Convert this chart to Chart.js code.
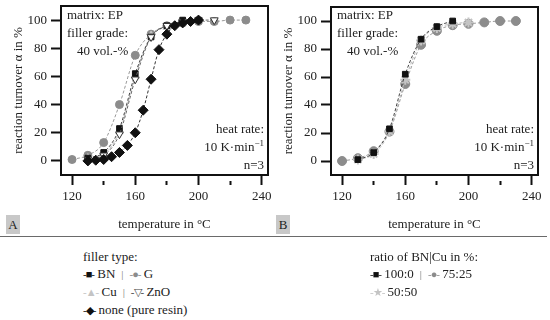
<!DOCTYPE html>
<html>
<head>
<meta charset="utf-8">
<script src="https://cdn.jsdelivr.net/npm/chart.js@4/dist/chart.umd.min.js"></script>
<style>
  html, body { margin: 0; padding: 0; background: #fff; }
  body { width: 550px; height: 320px; position: relative; overflow: hidden;
         font-family: "Liberation Serif", serif; color: #222; font-size: 13px; }
  canvas { position: absolute; top: 0; }
  .txt { position: absolute; white-space: nowrap; line-height: 16px; }
  .r { text-align: right; }
  .tag { position: absolute; background: #c8c8c8; width: 14px; height: 19px; line-height: 19px;
         text-align: center; top: 215px; }
  .rule { position: absolute; left: 0; top: 236px; width: 547px; height: 0; border-top: 1.5px solid #6a6a6a; }
  .sep { color: #777; margin: 0 6px; font-size: 11px; }
  .sym { font-size: 11px; letter-spacing: -1px; }
  sup { font-size: 9px; line-height: 0; }
</style>
</head>
<body>
<canvas id="chartA" width="275" height="236" style="left:0"></canvas>
<canvas id="chartB" width="280" height="236" style="left:270px"></canvas>

<!-- anotaciones dentro de los paneles -->
<div class="txt" style="left:67px; top:7px">matrix: EP</div>
<div class="txt" style="left:67px; top:25px">filler grade:</div>
<div class="txt" style="left:77px; top:43px">40 vol.-%</div>
<div class="txt r" style="right:286px; top:121px">heat rate:</div>
<div class="txt r" style="right:286px; top:139px">10 K·min<sup>−1</sup></div>
<div class="txt r" style="right:286px; top:157px">n=3</div>

<div class="txt" style="left:337px; top:7px">matrix: EP</div>
<div class="txt" style="left:337px; top:25px">filler grade:</div>
<div class="txt" style="left:347px; top:43px">40 vol.-%</div>
<div class="txt r" style="right:16px; top:121px">heat rate:</div>
<div class="txt r" style="right:16px; top:139px">10 K·min<sup>−1</sup></div>
<div class="txt r" style="right:16px; top:157px">n=3</div>

<div class="tag" style="left:6px">A</div>
<div class="tag" style="left:276px">B</div>
<div class="rule"></div>

<!-- leyendas -->
<div class="txt" style="left:83px; top:249px">filler type:</div>
<div class="txt" style="left:83px; top:266px"><span class="sym" style="color:#111">-■-</span> BN<span class="sep">|</span><span class="sym" style="color:#8c8c8c">-●-</span> G</div>
<div class="txt" style="left:83px; top:284px"><span class="sym" style="color:#c4c4c4">-▲-</span> Cu<span class="sep">|</span><span class="sym" style="color:#444">-▽-</span> ZnO</div>
<div class="txt" style="left:83px; top:302px"><span class="sym" style="color:#111">-◆-</span> none (pure resin)</div>

<div class="txt" style="left:370px; top:249px">ratio of BN|Cu in %:</div>
<div class="txt" style="left:370px; top:266px"><span class="sym" style="color:#111">-■-</span> 100:0<span class="sep">|</span><span class="sym" style="color:#8c8c8c">-●-</span> 75:25</div>
<div class="txt" style="left:370px; top:284px"><span class="sym" style="color:#c4c4c4">-★-</span> 50:50</div>

<script>
// --- DATOS PANEL A (tipo de carga) ---
const tempBN = [130, 140, 150, 160, 170, 180, 190, 200];
const valBN = [2, 6, 23, 62, 88, 96, 100, 100];
const tempG = [120, 130, 140, 150, 160, 170, 180, 190, 200, 210, 220, 230];
const valG = [1, 4, 13, 40, 75, 90, 96, 98, 99, 99, 100, 100];
const tempCu = [130, 140, 150, 160, 170, 180, 190, 200];
const valCu = [2, 5, 21, 60, 89, 95, 99, 100];
const tempZnO = [130, 140, 150, 160, 170, 180, 190, 200, 210];
const valZnO = [1, 4, 19, 58, 88, 96, 99, 100, 100];
const tempNone = [130, 135, 140, 145, 150, 155, 160, 165, 170, 175, 180, 185, 190, 195, 200];
const valNone = [0, 0.5, 1, 3, 6, 11, 20, 36, 58, 79, 90, 96, 98, 99, 100];

// --- DATOS PANEL B (relación BN|Cu) ---
const temp100 = [130, 140, 150, 160, 170, 180, 190];
const val100 = [1, 6, 23, 62, 87, 96, 100];
const temp75 = [120, 130, 140, 150, 160, 170, 180, 190, 200, 210, 220, 230];
const val75 = [0, 2, 7, 21, 55, 83, 93, 97, 98, 99, 100, 100];
const temp50 = [130, 140, 150, 160, 170, 180, 190, 200];
const val50 = [1, 5, 21, 58, 86, 95, 98, 99];

// --- TICKS ---
const xTicks = [120, 140, 160, 180, 200, 220, 240];
const xLabels = [120, 160, 200, 240];
const yTicks = [0, 10, 20, 30, 40, 50, 60, 70, 80, 90, 100];
const yLabels = [0, 20, 40, 60, 80, 100];

const FONT = 'Liberation Serif';

function toPoints(xs, ys) {
    return xs.map((x, i) => ({ x: x, y: ys[i] }));
}

function series(xs, ys, style) {
    return Object.assign({
        data: toPoints(xs, ys),
        borderWidth: 1,
        borderDash: [3, 2],
        cubicInterpolationMode: 'monotone',
        pointBorderWidth: 1
    }, style);
}

// Marco negro alrededor del área del gráfico
const framePlugin = {
    id: 'frame',
    afterDraw(chart) {
        const a = chart.chartArea;
        const c = chart.ctx;
        c.save();
        c.strokeStyle = '#111';
        c.lineWidth = 2;
        c.strokeRect(a.left, a.top, a.right - a.left, a.bottom - a.top);
        c.restore();
    }
};

// Sin relleno extra por etiquetas que sobresalen: el área queda fija
function noOverhang(s) {
    s.paddingLeft = 0;
    s.paddingRight = 0;
    s.paddingTop = 0;
    s.paddingBottom = 0;
}

function makeChart(canvasId, rightPad, datasets) {
    return new Chart(document.getElementById(canvasId), {
        type: 'line',
        data: { datasets: datasets },
        plugins: [framePlugin],
        options: {
            responsive: false,
            animation: false,
            layout: { padding: { top: 4, right: rightPad, left: 0, bottom: 3 } },
            plugins: { legend: { display: false }, tooltip: { enabled: false } },
            scales: {
                x: {
                    type: 'linear', min: 113, max: 244,
                    afterBuildTicks: s => { s.ticks = xTicks.map(v => ({ value: v })); },
                    afterFit: s => { s.height = 58; noOverhang(s); },
                    border: { display: true, color: '#111', width: 2 },
                    grid: {
                        drawOnChartArea: false, tickLength: 10, tickColor: '#111', tickWidth: 2,
                        tickBorderDash: ctx => xLabels.includes(ctx.tick.value) ? [] : [0, 5, 5, 100]
                    },
                    ticks: {
                        padding: 4, color: '#222', font: { family: FONT, size: 13 },
                        callback: v => xLabels.includes(v) ? v : ''
                    },
                    title: {
                        display: true, text: 'temperature in °C', color: '#222',
                        font: { family: FONT, size: 13 }, padding: { top: 0, bottom: 1 }
                    }
                },
                y: {
                    type: 'linear', min: -10, max: 110,
                    afterBuildTicks: s => { s.ticks = yTicks.map(v => ({ value: v })); },
                    afterFit: s => { s.width = 61; noOverhang(s); },
                    border: { display: true, color: '#111', width: 2 },
                    grid: {
                        drawOnChartArea: false, tickLength: 10, tickColor: '#111', tickWidth: 2,
                        tickBorderDash: ctx => yLabels.includes(ctx.tick.value) ? [] : [0, 5, 5, 100]
                    },
                    ticks: {
                        padding: 4, color: '#222', font: { family: FONT, size: 13 },
                        callback: v => yLabels.includes(v) ? v : ''
                    },
                    title: {
                        display: true, text: 'reaction turnover α in %', color: '#222',
                        font: { family: FONT, size: 13 }, padding: { top: 11, bottom: 0 }
                    }
                }
            }
        }
    });
}

makeChart('chartA', 7, [
    series(tempNone, valNone, { borderColor: '#333', pointStyle: 'rectRot', pointRadius: 5,
        pointBackgroundColor: '#111', pointBorderColor: '#111' }),
    series(tempZnO, valZnO, { borderColor: '#666', pointStyle: 'triangle', pointRotation: 180, pointRadius: 4.5,
        pointBackgroundColor: '#fff', pointBorderColor: '#333' }),
    series(tempBN, valBN, { borderColor: '#444', pointStyle: 'rect', pointRadius: 4,
        pointBackgroundColor: '#111', pointBorderColor: '#111' }),
    series(tempCu, valCu, { borderColor: '#bbb', pointStyle: 'triangle', pointRadius: 4.5,
        pointBackgroundColor: '#c4c4c4', pointBorderColor: '#c4c4c4' }),
    series(tempG, valG, { borderColor: '#999', pointStyle: 'circle', pointRadius: 4,
        pointBackgroundColor: '#8c8c8c', pointBorderColor: '#8c8c8c' })
]);

makeChart('chartB', 12, [
    series(temp100, val100, { borderColor: '#444', pointStyle: 'rect', pointRadius: 4,
        pointBackgroundColor: '#111', pointBorderColor: '#111' }),
    series(temp50, val50, { borderColor: '#bbb', pointStyle: 'star', pointRadius: 5,
        pointBackgroundColor: '#c4c4c4', pointBorderColor: '#c4c4c4', pointBorderWidth: 2 }),
    series(temp75, val75, { borderColor: '#999', pointStyle: 'circle', pointRadius: 4.5,
        pointBackgroundColor: '#8c8c8c', pointBorderColor: '#8c8c8c' })
]);
</script>
</body>
</html>
